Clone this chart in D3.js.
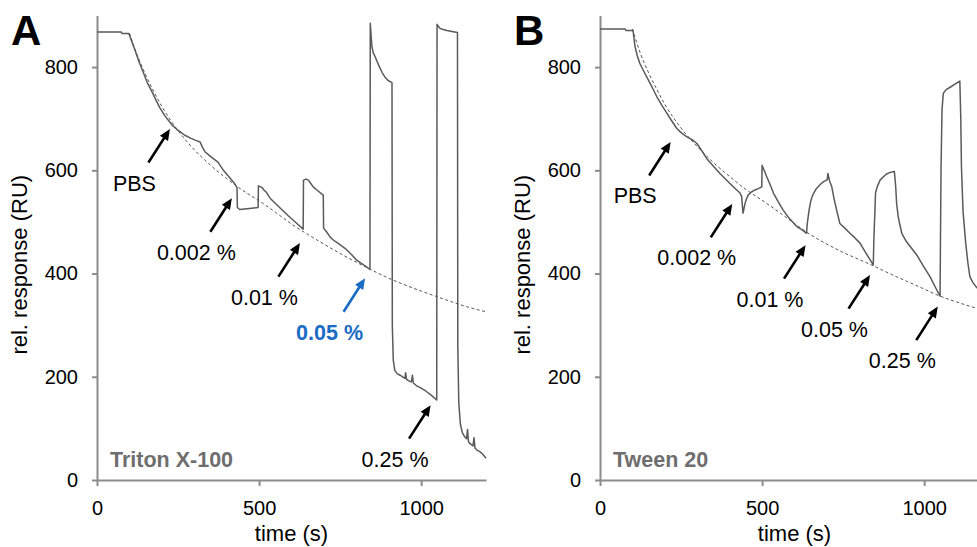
<!DOCTYPE html>
<html>
<head>
<meta charset="utf-8">
<script src="https://cdn.jsdelivr.net/npm/d3@7"></script>
<style>
  html, body { margin: 0; padding: 0; background: #fff; }
  svg { display: block; font-family: "Liberation Sans", Arial, Helvetica, sans-serif; }
</style>
</head>
<body>
<svg id="chart" width="977" height="547"></svg>
<script>
// ---- Sensorgram data: Triton X-100 (panel A) ----
const tritonTime = [0, 75, 77, 98, 100, 110, 117, 130, 142, 155, 170, 182, 194, 210, 225, 231, 245, 260, 271, 290, 305, 318, 325, 333, 350, 373, 390, 410, 425, 432,
  433, 440, 470, 497, 498, 508, 515, 523, 534, 560, 590, 615, 636,
  637, 645, 652, 660, 667, 680, 698, 699, 708, 720, 729, 745, 765, 785, 801, 820, 842,
  843, 848, 852, 858, 866, 873, 880, 888, 898, 910,
  911, 914, 919, 926, 935, 945, 950, 952, 955, 962, 970, 973, 976, 985, 1000, 1015, 1030, 1048,
  1049, 1052, 1058, 1068, 1079, 1095, 1112,
  1113, 1116, 1121, 1127, 1134, 1140, 1143, 1146, 1152, 1160, 1163, 1166, 1172, 1181, 1190, 1200];
const tritonResp = [868, 868, 865, 865, 862, 845, 833, 810, 791, 770, 752, 736, 721, 705, 693, 688, 680, 673, 668, 662, 658, 655, 645, 636, 627, 616, 600, 585, 574, 566,
  528, 524, 526, 528, 570, 567, 562, 557, 546, 530, 512, 498, 486,
  581, 583, 581, 574, 568, 561, 552, 488, 481, 470, 465, 458, 449, 437, 426, 418, 408,
  885, 840, 828, 820, 808, 798, 789, 781, 774, 770,
  300, 232, 212, 206, 203, 199, 197, 208, 195, 192, 190, 203, 188, 183, 178, 172, 165, 155,
  883, 880, 875, 873, 871, 869, 867,
  260, 150, 108, 92, 84, 80, 98, 74, 70, 66, 82, 62, 58, 55, 50, 42];

// Fitted baseline drift, panel A
const tritonFitTime = [100, 125, 150, 175, 200, 250, 300, 350, 400, 450, 500, 550, 600, 650, 700, 750, 800, 850, 900, 950, 1000, 1050, 1100, 1150, 1200];
const tritonFitResp = [866, 822, 785, 753, 724, 677, 640, 610, 584, 561, 541, 519, 496, 476, 457, 439, 422, 406, 391, 378, 366, 355, 344, 334, 326];

// ---- Sensorgram data: Tween 20 (panel B) ----
const tweenTime = [0, 78, 80, 102, 105, 108, 115, 123, 135, 144, 160, 175, 190, 206, 220, 237, 250, 268, 285, 299, 315, 329, 350, 370, 400, 420, 432, 437,
  441, 443, 447, 452, 457, 467, 478, 490, 499,
  500, 505, 514, 525, 535, 550, 565, 585, 607, 625, 637,
  640, 645, 650, 655, 662, 668, 680, 690, 699, 701, 703, 708, 715, 722, 730, 740, 755, 771, 785, 802, 820, 843,
  845, 848, 850, 855, 864, 875, 884, 895, 908,
  912, 915, 920, 925, 931, 945, 960, 977, 1000, 1018, 1035, 1049,
  1052, 1055, 1059, 1067, 1080, 1095, 1110,
  1113, 1115, 1120, 1128, 1135, 1141, 1150, 1162, 1180, 1200];
const tweenResp = [874, 874, 871, 871, 855, 840, 822, 807, 792, 781, 762, 743, 727, 711, 697, 681, 673, 665, 659, 652, 637, 623, 608, 594, 575, 563, 556, 549,
  517, 522, 535, 545, 552, 558, 562, 565, 568,
  610, 602, 588, 572, 556, 539, 523, 506, 491, 484, 478,
  500, 523, 540, 550, 559, 565, 573, 578, 581, 582, 594, 580, 568, 545, 523, 497, 488, 478, 470, 459, 440, 417,
  470, 520, 556, 568, 581, 588, 593, 596, 598,
  570, 536, 510, 495, 478, 462, 450, 436, 412, 394, 373, 356,
  600, 717, 749, 756, 761, 767, 773,
  700, 607, 520, 460, 420, 394, 383, 373, 362, 350];

// Fitted baseline drift, panel B
const tweenFitTime = [100, 125, 150, 175, 200, 250, 300, 350, 400, 450, 500, 550, 600, 650, 700, 750, 800, 850, 900, 950, 1000, 1050, 1100, 1150, 1200];
const tweenFitResp = [874, 826, 789, 757, 728, 682, 646, 615, 588, 563, 542, 520, 497, 475, 457, 441, 427, 413, 398, 384, 370, 356, 345, 335, 327];

// Injection labels: text, and the (time, response) point each arrow points at
const tritonLabels = ["PBS", "0.002 %", "0.01 %", "0.05 %", "0.25 %"];
const tritonArrowTime = [225, 416, 626, 827, 1029];
const tritonArrowResp = [680, 546, 459, 391, 145];
const tweenLabels = ["PBS", "0.002 %", "0.01 %", "0.05 %", "0.25 %"];
const tweenArrowTime = [218, 408, 634, 833, 1042];
const tweenArrowResp = [655, 535, 455, 397, 336];

const yTicks = [0, 200, 400, 600, 800];
const xTicks = [0, 500, 1000];

const svg = d3.select("#chart");
const plotTop = 15.5, plotBottom = 480;

const panels = [
  { letter: "A", name: "Triton X-100", left: 97, right: 486,
    time: tritonTime, resp: tritonResp, fitTime: tritonFitTime, fitResp: tritonFitResp,
    labels: tritonLabels, at: tritonArrowTime, av: tritonArrowResp, highlight: "0.05 %" },
  { letter: "B", name: "Tween 20", left: 600, right: 989,
    time: tweenTime, resp: tweenResp, fitTime: tweenFitTime, fitResp: tweenFitResp,
    labels: tweenLabels, at: tweenArrowTime, av: tweenArrowResp, highlight: null }
];

panels.forEach(p => {
  const x = d3.scaleLinear().domain([0, 1200]).range([p.left, p.right]);
  const y = d3.scaleLinear().domain([0, 900]).range([plotBottom, plotTop]);
  const g = svg.append("g");

  // axes
  const yAxis = g.append("g").attr("transform", `translate(${p.left},0)`)
    .call(d3.axisLeft(y).tickValues(yTicks).tickFormat(d3.format("d"))
      .tickSize(5).tickSizeOuter(0).tickPadding(14));
  const xAxis = g.append("g").attr("transform", `translate(0,${plotBottom})`)
    .call(d3.axisBottom(x).tickValues(xTicks).tickFormat(d3.format("d"))
      .tickSize(6).tickSizeOuter(0).tickPadding(15));
  [yAxis, xAxis].forEach(a => {
    a.selectAll("path, line").attr("stroke", "#8c8c8c").attr("stroke-width", 2);
    a.selectAll("text").attr("fill", "#000").attr("font-size", 20)
      .attr("font-family", "'Liberation Sans', Arial, sans-serif");
  });

  // axis titles
  g.append("text")
    .attr("transform", `translate(${p.left - 70},${(plotTop + plotBottom) / 2 + 17}) rotate(-90)`)
    .attr("text-anchor", "middle").attr("font-size", 22).attr("fill", "#000")
    .text("rel. response (RU)");
  g.append("text")
    .attr("x", (p.left + p.right) / 2).attr("y", 541)
    .attr("text-anchor", "middle").attr("font-size", 22).attr("fill", "#000")
    .text("time (s)");

  // panel letter
  g.append("text").attr("x", p.left - 86).attr("y", 45)
    .attr("font-size", 42).attr("font-weight", "bold").attr("fill", "#000")
    .text(p.letter);

  // detergent name
  g.append("text").attr("x", p.left + 13).attr("y", 467)
    .attr("font-size", 21.5).attr("font-weight", "bold").attr("fill", "#6e6e6e")
    .text(p.name);

  // fitted baseline (dashed)
  const fit = d3.zip(p.fitTime, p.fitResp);
  g.append("path").datum(fit)
    .attr("fill", "none").attr("stroke", "#555").attr("stroke-width", 1)
    .attr("stroke-dasharray", "3,2.5")
    .attr("d", d3.line().x(d => x(d[0])).y(d => y(d[1])).curve(d3.curveMonotoneX));

  // measured response
  const trace = d3.zip(p.time, p.resp);
  g.append("path").datum(trace)
    .attr("fill", "none").attr("stroke", "#5a5a5a").attr("stroke-width", 1.5)
    .attr("stroke-linejoin", "round")
    .attr("d", d3.line().x(d => x(d[0])).y(d => y(d[1])));

  // injection arrows + labels
  p.labels.forEach((lab, i) => {
    const tipX = x(p.at[i]), tipY = y(p.av[i]);
    const tailX = tipX - 21.5, tailY = tipY + 33.5;
    const col = lab === p.highlight ? "#1a6cc4" : "#000";
    const dx = tipX - tailX, dy = tipY - tailY, len = Math.hypot(dx, dy);
    const ux = dx / len, uy = dy / len;
    const headL = 11, headW = 4.8;
    const bx = tipX - ux * headL, by = tipY - uy * headL;
    g.append("line").attr("x1", tailX).attr("y1", tailY).attr("x2", bx + ux * 2).attr("y2", by + uy * 2)
      .attr("stroke", col).attr("stroke-width", 2.6);
    g.append("path")
      .attr("d", `M${tipX},${tipY}L${bx - uy * headW},${by + ux * headW}L${bx + uy * headW},${by - ux * headW}Z`)
      .attr("fill", col);
    g.append("text").attr("x", tailX - 14).attr("y", tailY + 28)
      .attr("text-anchor", "middle").attr("font-size", 21.5)
      .attr("font-weight", lab === p.highlight ? "bold" : "normal")
      .attr("fill", col).text(lab);
  });
});
</script>
</body>
</html>
